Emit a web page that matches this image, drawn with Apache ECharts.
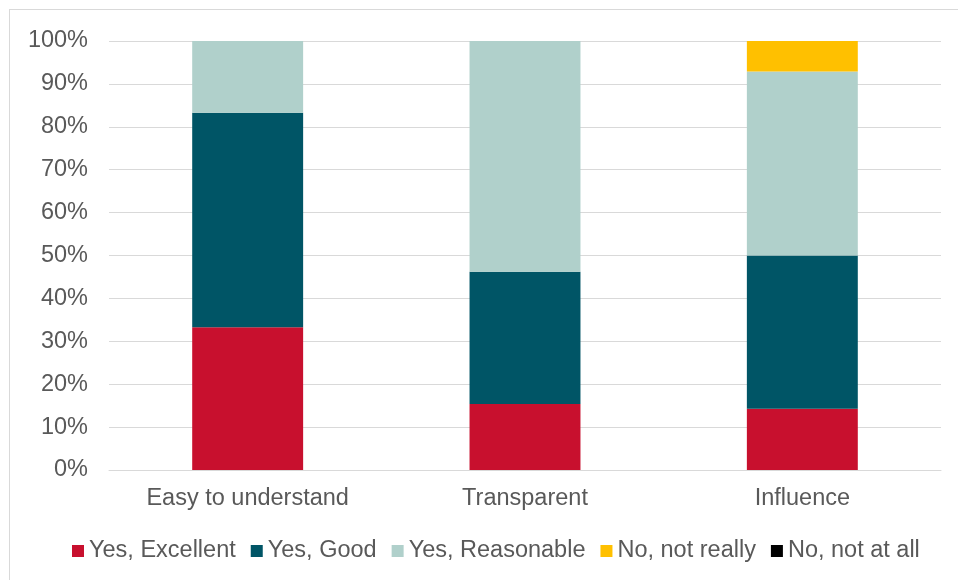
<!DOCTYPE html>
<html>
  <head>
    <meta charset="utf-8" />
    <title>ECharts</title>
    <script src="https://cdn.jsdelivr.net/npm/echarts@6/dist/echarts.min.js"></script>
    <style>
      html, body { margin: 0; padding: 0; overflow: hidden; background: #fff; }
      #frame { position: absolute; left: 9px; top: 9px; width: 980px; height: 600px; border: 1px solid #d9d9d9; }
      #main { position: absolute; left: 0; top: 0; width: 958px; height: 580px; }
    </style>
  </head>
  <body>
    <div id="frame"></div>
    <div id="main"></div>
    <script type="text/javascript">
      var categories = ["Easy to understand", "Transparent", "Influence"];
      var seriesNames = ["Yes, Excellent", "Yes, Good", "Yes, Reasonable", "No, not really", "No, not at all"];
      var excellent = [33.3, 15.4, 14.3];
      var good = [50.0, 30.8, 35.7];
      var reasonable = [16.7, 53.8, 42.9];
      var notReally = [0, 0, 7.1];
      var notAtAll = [0, 0, 0];
      var colors = ["#C8102E", "#005566", "#B0D0CB", "#FFC000", "#000000"];

      var values = [excellent, good, reasonable, notReally, notAtAll];

      var myChart = echarts.init(document.getElementById("main"), null, { renderer: "canvas" });

      var series = seriesNames.map(function (name, i) {
        return {
          name: name,
          type: "bar",
          stack: "total",
          barWidth: "40%",
          itemStyle: { color: colors[i] },
          data: values[i]
        };
      });

      var option = {
        animation: false,
        textStyle: { fontFamily: "Liberation Sans, Arial, sans-serif" },
        grid: { left: 109, right: 17, top: 41, bottom: 110 },
        legend: {
          bottom: 12,
          left: 67,
          itemWidth: 12,
          itemHeight: 12,
          itemGap: 15,
          icon: "rect",
          textStyle: { fontSize: 23.5, color: "#595959" },
          data: seriesNames
        },
        xAxis: {
          type: "category",
          data: categories,
          axisLine: { lineStyle: { color: "#d9d9d9", width: 1 } },
          axisTick: { show: false },
          axisLabel: { fontSize: 23.5, color: "#595959", margin: 17 }
        },
        yAxis: {
          type: "value",
          min: 0,
          max: 100,
          interval: 10,
          axisLine: { show: false },
          axisTick: { show: false },
          splitLine: { lineStyle: { color: "#d9d9d9", width: 1 } },
          axisLabel: { fontSize: 23.5, color: "#595959", margin: 21, formatter: "{value}%" }
        },
        series: series
      };

      myChart.setOption(option);
    </script>
  </body>
</html>
